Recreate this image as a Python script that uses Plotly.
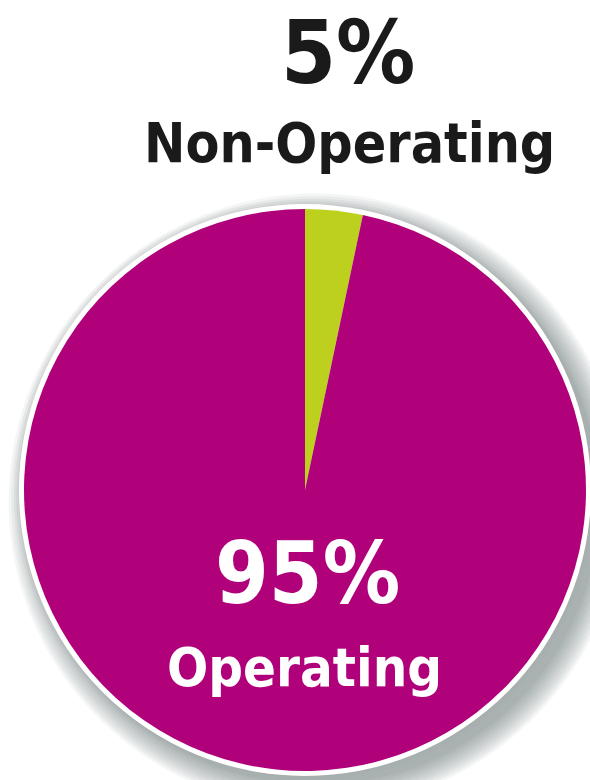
import plotly.graph_objects as go

# Data
categories = ["Non-Operating", "Operating"]
pct_labels = ["5%", "95%"]
slice_values = [3.3, 96.7]   # slice sizes as drawn in the picture
colors = ["#BDD01E", "#B0007A"]

W, H = 590, 780
cx, cy, r = 305, 490, 281  # pixel geometry of the pie

def px_x(x):
    return x / W

def px_y(y):
    return 1 - y / H

fig = go.Figure()
fig.add_trace(go.Pie(
    labels=categories,
    values=slice_values,
    marker=dict(colors=colors, line=dict(width=0)),
    sort=False,
    direction="clockwise",
    rotation=0,
    textinfo="none",
    hoverinfo="label+percent",
    showlegend=False,
    domain=dict(x=[px_x(cx - r), px_x(cx + r)], y=[px_y(cy + r), px_y(cy - r)]),
))

shapes = []
# soft shadow (offset right/down)
for k in range(10):
    rr = r + 3 + k * 2.6
    ox, oy = cx + 11, cy + 11
    shapes.append(dict(type="circle", xref="paper", yref="paper", layer="below",
                       x0=px_x(ox - rr), x1=px_x(ox + rr), y0=px_y(oy + rr), y1=px_y(oy - rr),
                       fillcolor="rgba(95,100,110,0.065)", line=dict(width=0)))
# faint halo all around
for k in range(3):
    rr = r + 6 + k * 2
    shapes.append(dict(type="circle", xref="paper", yref="paper", layer="below",
                       x0=px_x(cx - rr), x1=px_x(cx + rr), y0=px_y(cy + rr), y1=px_y(cy - rr),
                       fillcolor="rgba(150,155,160,0.05)", line=dict(width=0)))
# white ring
rw = r + 5
shapes.append(dict(type="circle", xref="paper", yref="paper", layer="below",
                   x0=px_x(cx - rw), x1=px_x(cx + rw), y0=px_y(cy + rw), y1=px_y(cy - rw),
                   fillcolor="white", line=dict(width=0)))

font_family = "Liberation Sans Narrow, DejaVu Sans Condensed, Arial Narrow, sans-serif"

annotations = [
    dict(text="<b>" + pct_labels[0] + "</b>", x=px_x(348), y=1, xref="paper", yref="paper",
         showarrow=False, xanchor="center", yanchor="top", borderpad=0,
         font=dict(family=font_family, size=88, color="#1a1a1a")),
    dict(text="<b>" + categories[0] + "</b>", x=px_x(349), y=px_y(143), xref="paper", yref="paper",
         showarrow=False, xanchor="center", yanchor="middle",
         font=dict(family=font_family, size=55, color="#1a1a1a")),
    dict(text="<b>" + pct_labels[1] + "</b>", x=px_x(307), y=px_y(573), xref="paper", yref="paper",
         showarrow=False, xanchor="center", yanchor="middle",
         font=dict(family=font_family, size=86, color="white")),
    dict(text="<b>" + categories[1] + "</b>", x=px_x(304), y=px_y(667), xref="paper", yref="paper",
         showarrow=False, xanchor="center", yanchor="middle",
         font=dict(family=font_family, size=54, color="white")),
]

fig.update_layout(
    width=W, height=H,
    margin=dict(l=0, r=0, t=0, b=0),
    paper_bgcolor="white",
    plot_bgcolor="white",
    shapes=shapes,
    annotations=annotations,
)

fig.write_html("out.html")
